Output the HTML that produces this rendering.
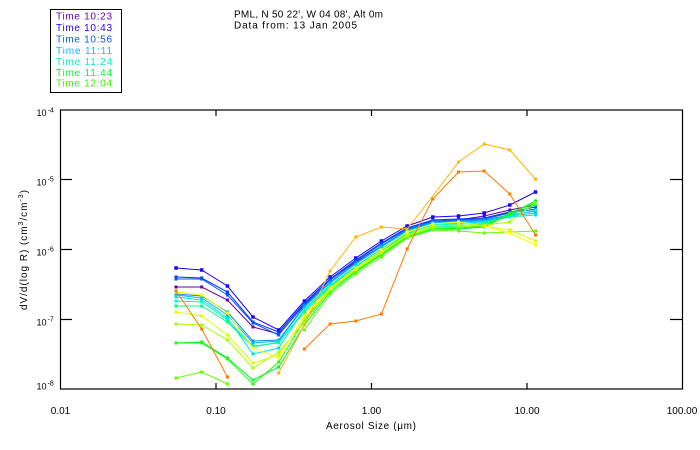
<!DOCTYPE html>
<html><head><meta charset="utf-8"><style>
html,body{margin:0;padding:0;background:#fff;}
svg{display:block;}
text{font-family:"Liberation Sans",sans-serif;fill:#000;}
</style></head><body>
<svg width="700" height="450" viewBox="0 0 700 450" xmlns="http://www.w3.org/2000/svg">
<rect width="700" height="450" fill="#fff"/>
<!-- legend -->
<rect x="50.5" y="9.5" width="71" height="83" fill="none" stroke="#000" stroke-width="1"/>
<g font-size="10">
<text x="56" y="19.3" fill="#6a00a8" style="fill:#6a00a8" textLength="56" lengthAdjust="spacing">Time 10:23</text>
<text x="56" y="30.9" style="fill:#2000ff" textLength="56" lengthAdjust="spacing">Time 10:43</text>
<text x="56" y="42.6" style="fill:#0058ff" textLength="56" lengthAdjust="spacing">Time 10:56</text>
<text x="56" y="54.1" style="fill:#00c0ff" textLength="56" lengthAdjust="spacing">Time 11:11</text>
<text x="56" y="65.2" style="fill:#00f0c0" textLength="56" lengthAdjust="spacing">Time 11:24</text>
<text x="56" y="75.9" style="fill:#10f030" textLength="56" lengthAdjust="spacing">Time 11:44</text>
<text x="56" y="86.3" style="fill:#40f000" textLength="56" lengthAdjust="spacing">Time 12:04</text>
</g>
<!-- title -->
<text x="234" y="17.6" font-size="10" textLength="149" lengthAdjust="spacing">PML, N 50 22', W 04 08', Alt 0m</text>
<text x="234" y="28.6" font-size="10" textLength="123" lengthAdjust="spacing">Data from: 13 Jan 2005</text>

<!-- axes box -->
<rect x="60.5" y="110" width="622" height="279" fill="none" stroke="#000" stroke-width="1.2"/>
<g stroke="#000" stroke-width="1.2">
<line x1="60" y1="179.5" x2="72" y2="179.5"/>
<line x1="60" y1="249.5" x2="72" y2="249.5"/>
<line x1="60" y1="319.5" x2="72" y2="319.5"/>
<line x1="682" y1="179.5" x2="670" y2="179.5"/>
<line x1="682" y1="249.5" x2="670" y2="249.5"/>
<line x1="682" y1="319.5" x2="670" y2="319.5"/>
<line x1="216" y1="389" x2="216" y2="383"/>
<line x1="371.5" y1="389" x2="371.5" y2="383"/>
<line x1="527" y1="389" x2="527" y2="383"/>
<line x1="216" y1="110" x2="216" y2="116"/>
<line x1="371.5" y1="110" x2="371.5" y2="116"/>
<line x1="527" y1="110" x2="527" y2="116"/>
</g>
<!-- y labels -->
<g font-size="9">
<text x="46.5" y="116" text-anchor="end">10</text><text x="47.5" y="112.5" font-size="7">-4</text>
<text x="46.5" y="185.5" text-anchor="end">10</text><text x="47.5" y="181.5" font-size="7">-5</text>
<text x="46.5" y="255.5" text-anchor="end">10</text><text x="47.5" y="251.5" font-size="7">-6</text>
<text x="46.5" y="325.5" text-anchor="end">10</text><text x="47.5" y="321.5" font-size="7">-7</text>
<text x="46.5" y="389.5" text-anchor="end">10</text><text x="47.5" y="385.5" font-size="7">-8</text>
</g>
<!-- x labels -->
<g font-size="10" text-anchor="middle">
<text x="60.5" y="414">0.01</text>
<text x="216" y="414">0.10</text>
<text x="371.5" y="414">1.00</text>
<text x="527" y="414">10.00</text>
<text x="682" y="414">100.00</text>
<text x="371" y="429" textLength="90" lengthAdjust="spacing">Aerosol Size (μm)</text>
</g>
<text transform="translate(27,250) rotate(-90)" font-size="10" text-anchor="middle" textLength="120" lengthAdjust="spacing">dV/d(log R) (cm<tspan font-size="7" dy="-4">3</tspan><tspan dy="4">/cm</tspan><tspan font-size="7" dy="-4">-3</tspan><tspan dy="4">)</tspan></text>

<!-- series -->
<g fill="none" stroke-width="1">
<g stroke="#6a00a8">
<polyline points="176,287 201.7,287 227.4,300 253,327 278.7,334 304.4,305 330.1,280 355.8,262 381.4,246 407.1,230 432.8,222 458.5,220 484.2,216 509.8,210 535.5,205"/>
<path stroke-width="3" stroke-linecap="square" d="M176 287h0M201.7 287h0M227.4 300h0M253 327h0M278.7 334h0M304.4 305h0M330.1 280h0M355.8 262h0M381.4 246h0M407.1 230h0M432.8 222h0M458.5 220h0M484.2 216h0M509.8 210h0M535.5 205h0"/>
</g>
<g stroke="#1e00ff">
<polyline points="176,268 201.7,270 227.4,286 253,317 278.7,330 304.4,301 330.1,277 355.8,258 381.4,241 407.1,226 432.8,217 458.5,216 484.2,213 509.8,205 535.5,192"/>
<path stroke-width="3.5" stroke-linecap="square" d="M176 268h0M201.7 270h0M227.4 286h0M253 317h0M278.7 330h0M304.4 301h0M330.1 277h0M355.8 258h0M381.4 241h0M407.1 226h0M432.8 217h0M458.5 216h0M484.2 213h0M509.8 205h0M535.5 192h0"/>
</g>
<g stroke="#0030ff">
<polyline points="176,277 201.7,278 227.4,292 253,322 278.7,332 304.4,303 330.1,279 355.8,260 381.4,243 407.1,228 432.8,220 458.5,219 484.2,218 509.8,212 535.5,207"/>
<path stroke-width="3" stroke-linecap="square" d="M176 277h0M201.7 278h0M227.4 292h0M253 322h0M278.7 332h0M304.4 303h0M330.1 279h0M355.8 260h0M381.4 243h0M407.1 228h0M432.8 220h0M458.5 219h0M484.2 218h0M509.8 212h0M535.5 207h0"/>
</g>
<g stroke="#0058ff">
<polyline points="176,279 201.7,279 227.4,295 253,323 278.7,335 304.4,304 330.1,280 355.8,261 381.4,244 407.1,229 432.8,221 458.5,220 484.2,219 509.8,213 535.5,209"/>
<path stroke-width="3" stroke-linecap="square" d="M176 279h0M201.7 279h0M227.4 295h0M253 323h0M278.7 335h0M304.4 304h0M330.1 280h0M355.8 261h0M381.4 244h0M407.1 229h0M432.8 221h0M458.5 220h0M484.2 219h0M509.8 213h0M535.5 209h0"/>
</g>
<g stroke="#0090ff">
<polyline points="176,294 201.7,296 227.4,312 253,341 278.7,340 304.4,306 330.1,282 355.8,263 381.4,246 407.1,230 432.8,222 458.5,221 484.2,220 509.8,215 535.5,211"/>
<path stroke-width="3" stroke-linecap="square" d="M176 294h0M201.7 296h0M227.4 312h0M253 341h0M278.7 340h0M304.4 306h0M330.1 282h0M355.8 263h0M381.4 246h0M407.1 230h0M432.8 222h0M458.5 221h0M484.2 220h0M509.8 215h0M535.5 211h0"/>
</g>
<g stroke="#00b8ff">
<polyline points="176,295 201.7,298 227.4,315 253,343 278.7,341 304.4,307 330.1,283 355.8,264 381.4,247 407.1,231 432.8,223 458.5,222 484.2,221 509.8,216 535.5,213"/>
<path stroke-width="3" stroke-linecap="square" d="M176 295h0M201.7 298h0M227.4 315h0M253 343h0M278.7 341h0M304.4 307h0M330.1 283h0M355.8 264h0M381.4 247h0M407.1 231h0M432.8 223h0M458.5 222h0M484.2 221h0M509.8 216h0M535.5 213h0"/>
</g>
<g stroke="#00e0f0">
<polyline points="176,297 201.7,300 227.4,318 253,354 278.7,348 304.4,309 330.1,285 355.8,266 381.4,249 407.1,232 432.8,224 458.5,223 484.2,222 509.8,217 535.5,215"/>
<path stroke-width="3" stroke-linecap="square" d="M176 297h0M201.7 300h0M227.4 318h0M253 354h0M278.7 348h0M304.4 309h0M330.1 285h0M355.8 266h0M381.4 249h0M407.1 232h0M432.8 224h0M458.5 223h0M484.2 222h0M509.8 217h0M535.5 215h0"/>
</g>
<g stroke="#00ffc0">
<polyline points="176,301 201.7,302 227.4,320 253,346 278.7,343 304.4,310 330.1,286 355.8,267 381.4,250 407.1,233 432.8,225 458.5,224 484.2,223 509.8,216 535.5,210"/>
<path stroke-width="3" stroke-linecap="square" d="M176 301h0M201.7 302h0M227.4 320h0M253 346h0M278.7 343h0M304.4 310h0M330.1 286h0M355.8 267h0M381.4 250h0M407.1 233h0M432.8 225h0M458.5 224h0M484.2 223h0M509.8 216h0M535.5 210h0"/>
</g>
<g stroke="#00ff80">
<polyline points="176,306 201.7,306 227.4,322 253,347 278.7,342 304.4,312 330.1,287 355.8,268 381.4,251 407.1,234 432.8,227 458.5,226 484.2,224 509.8,215 535.5,205"/>
<path stroke-width="3" stroke-linecap="square" d="M176 306h0M201.7 306h0M227.4 322h0M253 347h0M278.7 342h0M304.4 312h0M330.1 287h0M355.8 268h0M381.4 251h0M407.1 234h0M432.8 227h0M458.5 226h0M484.2 224h0M509.8 215h0M535.5 205h0"/>
</g>
<g stroke="#00f040">
<polyline points="176,343 201.7,342 227.4,358 253,380 278.7,367 304.4,325 330.1,292 355.8,272 381.4,255 407.1,237 432.8,229 458.5,229 484.2,227 509.8,214 535.5,201"/>
<path stroke-width="3" stroke-linecap="square" d="M176 343h0M201.7 342h0M227.4 358h0M253 380h0M278.7 367h0M304.4 325h0M330.1 292h0M355.8 272h0M381.4 255h0M407.1 237h0M432.8 229h0M458.5 229h0M484.2 227h0M509.8 214h0M535.5 201h0"/>
</g>
<g stroke="#20ff00">
<polyline points="176,343 201.7,343 227.4,359 253,384 278.7,362 304.4,320 330.1,290 355.8,271 381.4,254 407.1,236 432.8,228 458.5,228 484.2,226 509.8,213 535.5,203"/>
<path stroke-width="3" stroke-linecap="square" d="M176 343h0M201.7 343h0M227.4 359h0M253 384h0M278.7 362h0M304.4 320h0M330.1 290h0M355.8 271h0M381.4 254h0M407.1 236h0M432.8 228h0M458.5 228h0M484.2 226h0M509.8 213h0M535.5 203h0"/>
</g>
<g stroke="#60ff00">
<polyline points="176,378 201.7,372 227.4,384"/>
<polyline points="304.4,330 330.1,294 355.8,274 381.4,257 407.1,238 432.8,230 458.5,231 484.2,233 509.8,232 535.5,231"/>
<path stroke-width="3" stroke-linecap="square" d="M176 378h0M201.7 372h0M227.4 384h0M304.4 330h0M330.1 294h0M355.8 274h0M381.4 257h0M407.1 238h0M432.8 230h0M458.5 231h0M484.2 233h0M509.8 232h0M535.5 231h0"/>
</g>
<g stroke="#a0ff00">
<polyline points="176,324 201.7,325 227.4,340 253,368 278.7,352 304.4,322 330.1,290 355.8,270 381.4,253 407.1,236 432.8,228 458.5,227 484.2,225 509.8,222 535.5,203"/>
<path stroke-width="3" stroke-linecap="square" d="M176 324h0M201.7 325h0M227.4 340h0M253 368h0M278.7 352h0M304.4 322h0M330.1 290h0M355.8 270h0M381.4 253h0M407.1 236h0M432.8 228h0M458.5 227h0M484.2 225h0M509.8 222h0M535.5 203h0"/>
</g>
<g stroke="#d8ff00">
<polyline points="176,312 201.7,316 227.4,335 253,363 278.7,355 304.4,318 330.1,289 355.8,269 381.4,252 407.1,235 432.8,226 458.5,225 484.2,226 509.8,230 535.5,241"/>
<path stroke-width="3" stroke-linecap="square" d="M176 312h0M201.7 316h0M227.4 335h0M253 363h0M278.7 355h0M304.4 318h0M330.1 289h0M355.8 269h0M381.4 252h0M407.1 235h0M432.8 226h0M458.5 225h0M484.2 226h0M509.8 230h0M535.5 241h0"/>
</g>
<g stroke="#ffff00">
<polyline points="176,292 201.7,295 227.4,313 253,348 278.7,358 304.4,315 330.1,288 355.8,268 381.4,250 407.1,232 432.8,224 458.5,222 484.2,226 509.8,233 535.5,245"/>
<path stroke-width="3" stroke-linecap="square" d="M176 292h0M201.7 295h0M227.4 313h0M253 348h0M278.7 358h0M304.4 315h0M330.1 288h0M355.8 268h0M381.4 250h0M407.1 232h0M432.8 224h0M458.5 222h0M484.2 226h0M509.8 233h0M535.5 245h0"/>
</g>
<g stroke="#ffb400">
<polyline points="278.7,373 304.4,325 330.1,271 355.8,237 381.4,227 407.1,229 432.8,196 458.5,162 484.2,144 509.8,150 535.5,179"/>
<path stroke-width="3" stroke-linecap="square" d="M278.7 373h0M304.4 325h0M330.1 271h0M355.8 237h0M381.4 227h0M407.1 229h0M458.5 162h0M484.2 144h0M509.8 150h0M535.5 179h0"/>
</g>
<g stroke="#ff7800">
<polyline points="176,291 201.7,329 227.4,377"/>
<polyline points="304.4,349 330.1,324 355.8,321 381.4,314 407.1,249 432.8,199 458.5,172 484.2,171 509.8,194 535.5,235"/>
<path stroke-width="3" stroke-linecap="square" d="M176 291h0M201.7 329h0M227.4 377h0M304.4 349h0M330.1 324h0M355.8 321h0M381.4 314h0M407.1 249h0M432.8 199h0M458.5 172h0M484.2 171h0M509.8 194h0M535.5 235h0"/>
</g>
</g>
</svg>
</body></html>
